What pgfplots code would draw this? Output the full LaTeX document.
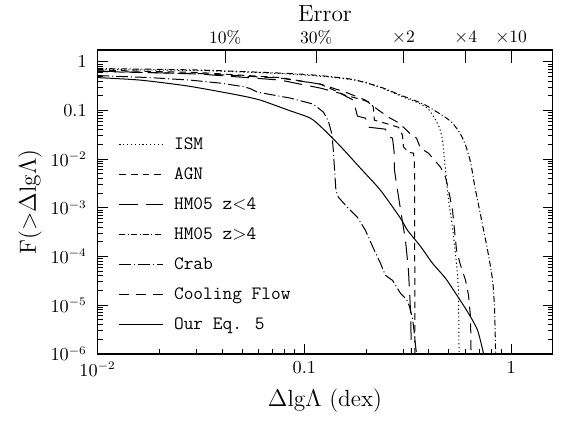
\documentclass[border=0pt]{standalone}
\usepackage{pgfplots}
\pgfplotsset{compat=1.18}
\begin{document}
\begin{tikzpicture}
\begin{axis}[
  scale only axis, width=272.7pt, height=182.1pt,
  xmode=log, ymode=log,
  xmin=0.01, xmax=1.585, ymin=1e-6, ymax=1.75,
  tick align=inside,
  tick label style={font=\fontsize{10.5}{12}\selectfont},
  tick style={black, line width=0.6pt},
  axis line style={line width=0.9pt},
  xtick={0.01,0.1,1}, xticklabels={$10^{-2}$,$0.1$,$1$},
  minor xtick={0.02,0.03,0.04,0.05,0.06,0.07,0.08,0.09,0.2,0.3,0.4,0.5,0.6,0.7,0.8,0.9},
  xtick pos=left,
  ytick={1e-6,1e-5,1e-4,1e-3,1e-2,0.1,1},
  yticklabels={$10^{-6}$,$10^{-5}$,$10^{-4}$,$10^{-3}$,$10^{-2}$,$0.1$,$1$},
  minor ytick={2e-6,3e-6,4e-6,5e-6,6e-6,7e-6,8e-6,9e-6,
               2e-5,3e-5,4e-5,5e-5,6e-5,7e-5,8e-5,9e-5,
               2e-4,3e-4,4e-4,5e-4,6e-4,7e-4,8e-4,9e-4,
               2e-3,3e-3,4e-3,5e-3,6e-3,7e-3,8e-3,9e-3,
               0.02,0.03,0.04,0.05,0.06,0.07,0.08,0.09,
               0.2,0.3,0.4,0.5,0.6,0.7,0.8,0.9},
  major tick length=6pt, minor tick length=3pt,
  xticklabel style={yshift=-1.5pt},
  yticklabel style={xshift=-3pt},
  xlabel={$\Delta$lg$\Lambda$ (dex)},
  ylabel={F(${>}\Delta$lg$\Lambda$)},
  label style={font=\fontsize{14}{16}\selectfont},
  xlabel style={at={(axis description cs:0.5,-0.153)}, anchor=center},
  ylabel style={at={(axis description cs:-0.1485,0.5)}, anchor=center},
  title={Error},
  title style={at={(axis description cs:0.5,1.086)}, anchor=center, font=\fontsize{14}{16}\selectfont},
  every axis plot/.append style={line width=0.6pt, black},
  legend style={at={(axis description cs:0.035,0.735)}, anchor=north west, draw=none, fill=none,
    font=\ttfamily\fontsize{11.3}{13}\selectfont, row sep=5.5pt, column sep=5.5pt,
    nodes={inner sep=1pt, text height=8pt, text depth=2.5pt}},
  legend cell align=left,
  legend image code/.code={\draw[#1] (0pt,0pt) -- (26pt,0pt);},
]
\coordinate (BL) at (rel axis cs:0,0);
\coordinate (TR) at (rel axis cs:1,1);
% ISM
\addplot[dash pattern=on 0.7pt off 1.6pt, smooth, tension=0.4] coordinates {
(0.01,0.695) (0.03136,0.662) (0.0765,0.574) (0.1336,0.487) (0.1867,0.403) (0.2413,0.282)
(0.3015,0.1887) (0.3525,0.1455) (0.394,0.112) (0.4261,0.0698) (0.4506,0.0435) (0.4659,0.0246)
(0.4764,0.00953) (0.4872,0.0037) (0.4982,0.00143) (0.5151,5.56e-4) (0.5325,1.70e-4)
(0.5508,4.1e-5) (0.5569,1.26e-5) (0.5600,1e-6)};
\addlegendentry{ISM}
% AGN
\addplot[dash pattern=on 4pt off 3pt] coordinates {
(0.01,0.678) (0.03136,0.602) (0.0765,0.475) (0.1195,0.349) (0.1579,0.2055) (0.1868,0.1708)
(0.2087,0.1464) (0.2156,0.1185) (0.2180,0.0634) (0.2467,0.0546) (0.2852,0.0453) (0.2982,0.0311)
(0.3015,0.0179) (0.3188,0.01393) (0.3371,0.01329) (0.3409,0.00834) (0.3428,1e-6)};
\addlegendentry{AGN}
% HM05 z<4
\addplot[dash pattern=on 11pt off 5pt] coordinates {
(0.01,0.647) (0.03136,0.561) (0.0765,0.422) (0.1195,0.289) (0.1494,0.2247) (0.1725,0.1637)
(0.1806,0.0767) (0.1974,0.0698) (0.2041,0.0455) (0.2467,0.0414) (0.2551,0.0297) (0.2668,0.0270)
(0.2713,0.01532) (0.2728,0.00594) (0.2821,0.00230) (0.2949,7.04e-4) (0.3084,2.15e-4)
(0.3188,5.20e-5) (0.3261,7.82e-6) (0.3297,1e-6)};
\addlegendentry{HM05 z$<$4}
% HM05 z>4
\addplot[dash pattern=on 3.5pt off 1.5pt on 0.6pt off 1.5pt, smooth, tension=0.4] coordinates {
(0.01,0.728) (0.03136,0.678) (0.0956,0.561) (0.1670,0.443) (0.2334,0.303) (0.2917,0.2075)
(0.3770,0.1355) (0.4711,0.0767) (0.5208,0.0551) (0.5694,0.0327) (0.6020,0.0194) (0.6366,0.00867)
(0.6655,0.00292) (0.6962,0.00113) (0.7278,4.38e-4) (0.7697,1.34e-4) (0.8136,3.24e-5)
(0.8320,7.82e-6) (0.8414,1e-6)};
\addlegendentry{HM05 z$>$4}
% Crab
\addplot[dash pattern=on 7pt off 1.8pt on 0.6pt off 1.8pt] coordinates {
(0.01,0.523) (0.01795,0.475) (0.02804,0.422) (0.0392,0.366) (0.0507,0.310) (0.0548,0.282)
(0.0592,0.239) (0.0855,0.180) (0.1105,0.1355) (0.1236,0.0927) (0.1307,0.0605) (0.1359,0.0327)
(0.1381,0.0153) (0.1405,0.00469) (0.1421,0.0023) (0.1461,0.00165) (0.1615,0.00103)
(0.1806,6.4e-4) (0.1974,3.46e-4) (0.2158,1.47e-4) (0.2334,7.25e-5) (0.2467,4.1e-5)
(0.2668,3.24e-5) (0.2917,1.75e-5) (0.3118,1.32e-5) (0.3225,9.4e-6) (0.3334,5.35e-6)
(0.3391,3.03e-6) (0.3448,1.49e-6) (0.3487,1e-6)};
\addlegendentry{Crab}
% Cooling Flow
\addplot[dash pattern=on 6pt off 4pt] coordinates {
(0.01,0.632) (0.03136,0.574) (0.0765,0.464) (0.1195,0.349) (0.1579,0.239) (0.1974,0.1637)
(0.2283,0.1019) (0.2551,0.0731) (0.2821,0.0577) (0.3050,0.0434) (0.3261,0.0327) (0.3487,0.0270)
(0.3645,0.01684) (0.3986,0.01329) (0.4556,0.00685) (0.4818,0.00426) (0.4982,0.00230)
(0.5208,8.93e-4) (0.5325,3.46e-4) (0.5445,1.34e-4) (0.5694,6.59e-5) (0.6020,3.24e-5)
(0.6223,1.59e-5) (0.6366,5.61e-6) (0.6401,1e-6)};
\addlegendentry{Cooling Flow}
% Our Eq. 5
\addplot[solid, smooth, tension=0.4] coordinates {
(0.01,0.475) (0.01607,0.422) (0.02743,0.318) (0.0479,0.2075) (0.0612,0.1637) (0.0836,0.1019)
(0.1069,0.0698) (0.1222,0.0435) (0.1493,0.0185) (0.1867,0.00653) (0.2334,0.0023)
(0.2917,6.1e-4) (0.3154,3.46e-4) (0.3645,1.62e-4) (0.4167,7.25e-5) (0.4818,3.56e-5)
(0.5508,1.52e-5) (0.6223,6.78e-6) (0.6885,3.03e-6) (0.7359,1e-6)};
\addlegendentry{Our Eq. 5}
\end{axis}
\begin{axis}[
  scale only axis, width=272.7pt, height=182.1pt,
  xmode=log, ymode=log,
  xmin=0.01, xmax=1.585, ymin=1e-6, ymax=1.75,
  axis x line*=top, axis y line=none,
  tick align=inside,
  tick label style={font=\fontsize{10.5}{12}\selectfont},
  tick style={black, line width=0.6pt},
  xtick={0.04139,0.11394,0.30103,0.60206,1},
  xticklabels={10\%,30\%,$\times$2,$\times$4,$\times$10},
  xminorticks=false,
  major tick length=7.5pt,
  axis line style={line width=0.9pt},
]
\addplot[draw=none] coordinates {(0.1,0.1)};
\end{axis}
\pgfresetboundingbox
\path ([shift={(-58.5pt,-39.9pt)}]BL) rectangle ([shift={(6.9pt,30pt)}]TR);
\end{tikzpicture}
\end{document}
